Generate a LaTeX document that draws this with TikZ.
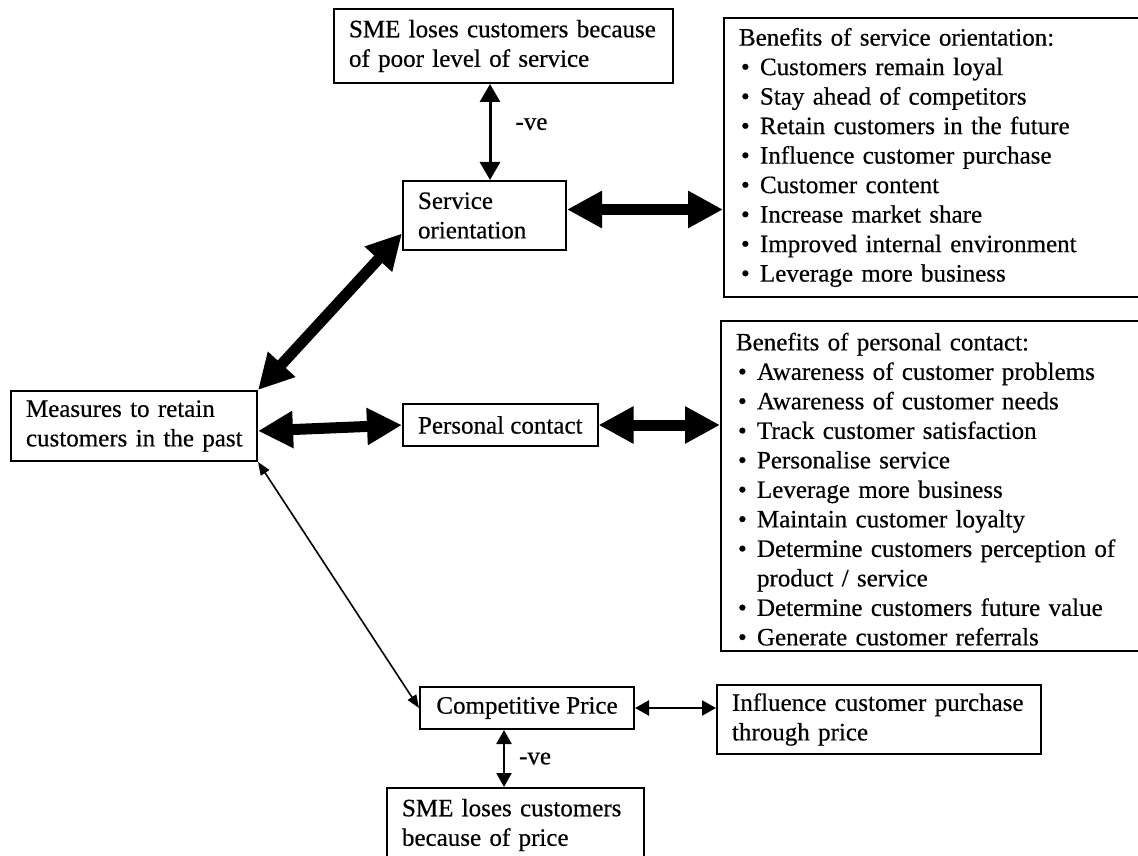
\documentclass[tikz,border=0pt]{standalone}
\usepackage{fontspec}
\setmainfont{Liberation Serif}[FakeBold=0.5]
\usetikzlibrary{arrows.meta,calc}

% one bullet line of a benefits list
\newcommand{\bul}[1]{\hspace*{1pt}\makebox[9.5pt][l]{\textbullet}#1}

\begin{document}
\begin{tikzpicture}[
  x=0.5pt, y=-0.5pt,
  font=\fontsize{12.5}{14.75}\selectfont,
  box/.style={draw, line width=1pt, anchor=north west, inner xsep=7.5pt, inner ysep=0pt},
  lbox/.style={box, align=left},
  fat/.style={{Triangle[length=17.5pt,width=17.5pt]}-{Triangle[length=17.5pt,width=17.5pt]}, line width=5.5pt},
  mid/.style={{Triangle[length=9pt,width=10pt]}-{Triangle[length=9pt,width=10pt]}, line width=1.5pt},
  slim/.style={{Triangle[length=7pt,width=7.5pt]}-{Triangle[length=7pt,width=7.5pt]}, line width=1.1pt},
  hair/.style={{Triangle[length=6.5pt,width=5pt]}-{Triangle[length=6.5pt,width=5pt]}, line width=0.8pt},
  note/.style={inner sep=0pt}
]
\useasboundingbox (0,0) rectangle (1138,855);
\clip (0,0) rectangle (1138,855);

% nodes
\node[lbox, text width=154.5pt, minimum height=37pt] (losesvc) at (333,8)
  {SME loses customers because\\of poor level of service};
\node[lbox, text width=66.5pt, minimum height=34.5pt] (svc) at (402,180)
  {Service\\orientation};
\node[lbox, text width=223.5pt, minimum height=139.5pt] (svcben) at (723,17)
  {Benefits of service orientation:\\
   \bul{Customers remain loyal}\\
   \bul{Stay ahead of competitors}\\
   \bul{Retain customers in the future}\\
   \bul{Influence customer purchase}\\
   \bul{Customer content}\\
   \bul{Increase market share}\\
   \bul{Improved internal environment}\\
   \bul{Leverage more business}};
\node[lbox, text width=225pt, minimum height=165pt] (conben) at (720,320)
  {\rule{0pt}{12pt}Benefits of personal contact:\\
   \bul{Awareness of customer problems}\\
   \bul{Awareness of customer needs}\\
   \bul{Track customer satisfaction}\\
   \bul{Personalise service}\\
   \bul{Leverage more business}\\
   \bul{Maintain customer loyalty}\\
   \bul{Determine customers perception of}\\
   \hspace*{10.5pt}product / service\\
   \bul{Determine customers future value}\\
   \bul{Generate customer referrals}};
\node[lbox, text width=112pt, inner xsep=5.5pt, minimum height=35pt] (past) at (10,390)
  {\hspace*{2pt}Measures to retain\\\hspace*{2pt}customers in the past};
\node[box, minimum width=95.5pt, minimum height=21pt] (contact) at (402,403) {Personal contact};
\node[box, minimum width=107pt, minimum height=21pt] (price) at (419,686) {Competitive Price};
\node[lbox, text width=147pt, minimum height=34.5pt] (pricein) at (716,684)
  {Influence customer purchase\\through price};
\node[lbox, text width=113.5pt, minimum height=37pt] (loseprc) at (386,787)
  {SME loses customers\\because of price};

% arrows
\coordinate (v1) at ([xshift=2.75pt]svc.north);
\draw[mid] (v1) -- (v1 |- losesvc.south) node[note, midway, right=12pt, yshift=4pt] {-ve};
\coordinate (s1) at ([yshift=3pt]svc.east);
\draw[fat] (s1) -- (s1 -| svcben.west);
\draw[fat] (past.north east) -- ([yshift=-9pt]svc.west);
\draw[fat] ([yshift=-2.5pt]past.east) -- (contact.west);
\draw[fat] (contact.east) -- (contact.east -| conben.west);
\draw[hair] (past.south east) -- (price.west);
\draw[slim] (price.east) -- (price.east -| pricein.west);
\coordinate (v2) at ([xshift=-11.5pt]price.south);
\draw[slim] (v2) -- (v2 |- loseprc.north) node[note, midway, right=7pt] {-ve};

\end{tikzpicture}
\end{document}
